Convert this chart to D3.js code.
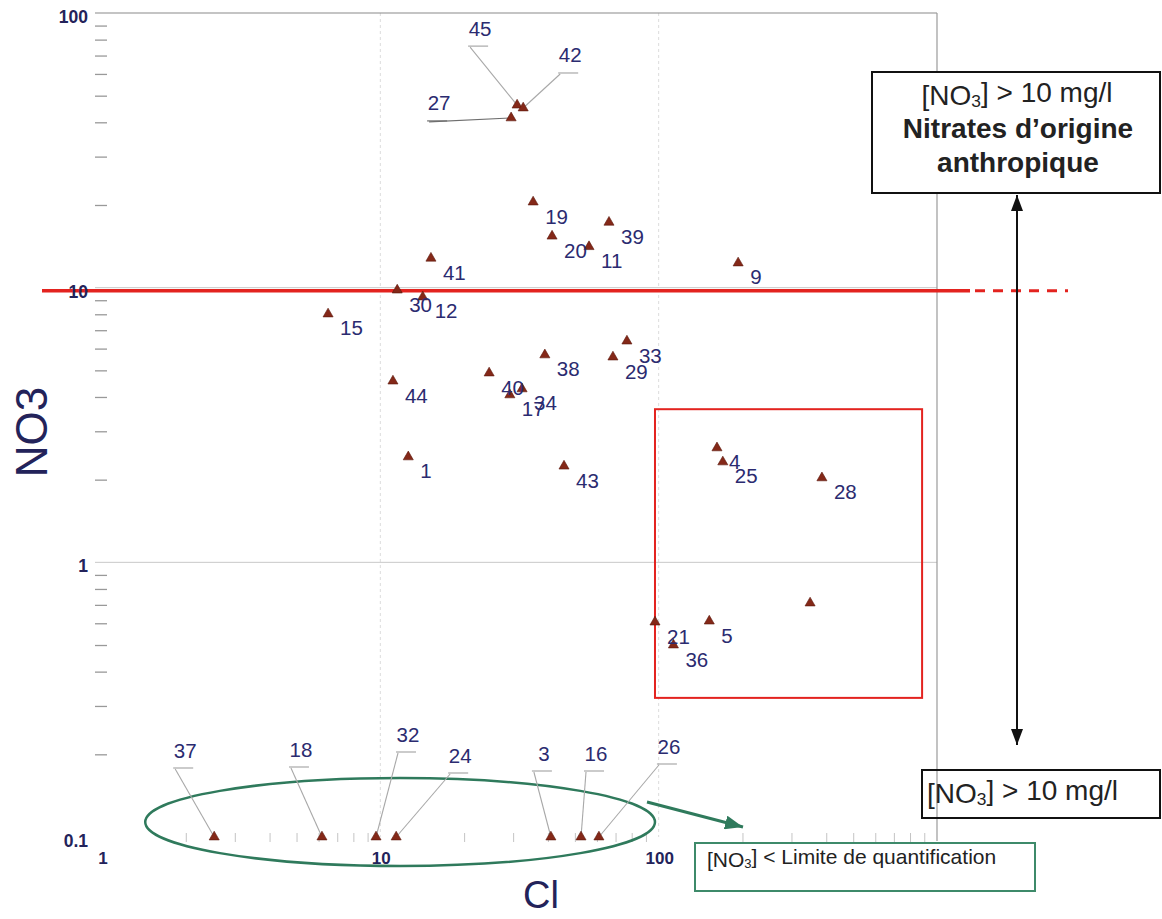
<!DOCTYPE html>
<html>
<head>
<meta charset="utf-8">
<script src="https://cdn.jsdelivr.net/npm/d3@7"></script>
<style>
  body { margin: 0; background: #fff; }
  svg { display: block; }
  text { font-family: "Liberation Sans", Arial, Helvetica, sans-serif; }
</style>
</head>
<body>
<svg id="chart" width="1162" height="919"></svg>
<script>
// Sample numbers and concentrations (mg/l)
const sampleIds = ["45", "42", "27", "19", "20", "11", "39", "41", "9", "30", "12", "15",
  "44", "1", "40", "17", "34", "38", "29", "33", "43", "4", "25", "28", "", "5", "21", "36",
  "37", "18", "32", "24", "3", "16", "26"];
const chloride = [31.0, 32.6, 29.5, 35.4, 41.4, 56.2, 66.3, 15.2, 193, 11.5, 14.2, 6.49,
  11.1, 12.6, 24.6, 29.2, 32.3, 39.0, 68.5, 76.9, 45.7, 162, 170, 386, 350, 152, 97.0, 113,
  2.53, 6.17, 9.65, 11.4, 41.0, 52.6, 61.0];
const nitrate = [46.2, 45.1, 41.5, 20.5, 15.4, 14.1, 17.3, 12.8, 12.3, 9.8, 9.25, 8.02,
  4.57, 2.42, 4.89, 4.07, 4.28, 5.69, 5.59, 6.39, 2.24, 2.61, 2.32, 2.03, 0.711, 0.611, 0.606, 0.50,
  0.1, 0.1, 0.1, 0.1, 0.1, 0.1, 0.1];

const xTickValues = [1, 10, 100];
const xTickLabels = ["1", "10", "100"];
const yTickValues = [0.1, 1, 10, 100];
const yTickLabels = ["0.1", "1", "10", "100"];

const nitrateLimit = 10;          // mg/l threshold line
const zoneCl = [97, 884];         // highlighted zone, chloride extent
const zoneNO3 = [0.321, 3.61];    // highlighted zone, nitrate extent
const lowGroupCl = [1.43, 97];    // samples below quantification limit

// Callout placement for crowded labels: label centre offset from the point
const callouts = {
  "45": [-37, -77], "42": [47, -53], "27": [-72, -15],
  "37": [-29, -87], "18": [-21, -88], "32": [32, -103], "24": [64, -82],
  "3": [-7, -84], "16": [15, -84], "26": [70, -91]
};

const points = sampleIds.map((id, i) => ({ id, cl: chloride[i], no3: nitrate[i] }));

const svg = d3.select("#chart");
svg.append("rect").attr("width", 1162).attr("height", 919).attr("fill", "#fff");

const x = d3.scaleLog().domain([1, 1000]).range([102, 937]);
const y = d3.scaleLog().domain([0.1, 100]).range([837, 13]);

const navy = "#23235a";
const red = "#e3231f";
const green = "#2f7a5c";

// Grid: faint vertical lines at decades, horizontal decade lines
const grid = svg.append("g");
grid.selectAll("line.v").data([10, 100]).join("line")
  .attr("x1", d => x(d)).attr("x2", d => x(d))
  .attr("y1", y(100)).attr("y2", y(0.1))
  .attr("stroke", "#dcdcdc").attr("stroke-width", 1).attr("stroke-dasharray", "3,3");
grid.selectAll("line.h").data([1, 10]).join("line")
  .attr("x1", 95).attr("x2", x(1000))
  .attr("y1", d => y(d)).attr("y2", d => y(d))
  .attr("stroke", "#c8c8c8").attr("stroke-width", 1);
// frame: top and right
grid.append("line").attr("x1", 95).attr("x2", x(1000)).attr("y1", y(100)).attr("y2", y(100))
  .attr("stroke", "#8a8a8a").attr("stroke-width", 1.2);
grid.append("line").attr("x1", x(1000)).attr("x2", x(1000)).attr("y1", y(100)).attr("y2", y(0.1) + 4)
  .attr("stroke", "#9a9a9a").attr("stroke-width", 1.2);

// Minor ticks on the left (y) and bottom (x)
const minor = [];
[0.1, 1, 10].forEach(d => { for (let k = 2; k <= 9; k++) minor.push(d * k); });
const yAxis = d3.axisLeft(y).tickValues(minor).tickSize(12).tickFormat("");
const yAxisG = svg.append("g").attr("transform", `translate(107,0)`).call(yAxis);
yAxisG.select(".domain").remove();
yAxisG.selectAll(".tick line").attr("stroke", "#999").attr("stroke-width", 1.3);

const minorX = [];
[1, 10, 100].forEach(d => { for (let k = 2; k <= 9; k++) minorX.push(d * k); });
const xAxis = d3.axisTop(x).tickValues(minorX).tickSize(9).tickFormat("");
const xAxisG = svg.append("g").attr("transform", `translate(0,${y(0.1) + 5})`).call(xAxis);
xAxisG.select(".domain").remove();
xAxisG.selectAll(".tick line").attr("stroke", "#c4c4c4");

// Highlighted zone
svg.append("rect")
  .attr("x", x(zoneCl[0])).attr("y", y(zoneNO3[1]))
  .attr("width", x(zoneCl[1]) - x(zoneCl[0]))
  .attr("height", y(zoneNO3[0]) - y(zoneNO3[1]))
  .attr("fill", "none").attr("stroke", red).attr("stroke-width", 2);

// Group of samples below the quantification limit
const ex0 = x(lowGroupCl[0]), ex1 = x(lowGroupCl[1]);
svg.append("ellipse")
  .attr("cx", (ex0 + ex1) / 2).attr("cy", y(0.1) - 15)
  .attr("rx", (ex1 - ex0) / 2).attr("ry", 44)
  .attr("fill", "none").attr("stroke", green).attr("stroke-width", 2.5);

// Callout leader lines
const calloutG = svg.append("g");
points.filter(p => callouts[p.id]).forEach(p => {
  const px = x(p.cl), py = y(p.no3);
  const [dx, dy] = callouts[p.id];
  const lx = px + dx, ly = py + dy;
  const col = p.id === "27" ? "#6e6e6e" : "#a8a8a8";
  calloutG.append("line").attr("x1", lx - 12).attr("x2", lx + 8)
    .attr("y1", ly + 18).attr("y2", ly + 18).attr("stroke", col).attr("stroke-width", 1.2);
  calloutG.append("line").attr("x1", lx - 10).attr("y1", ly + 19)
    .attr("x2", px).attr("y2", py)
    .attr("stroke", col).attr("stroke-width", 1.1);
});

// Nitrate threshold line
svg.append("line").attr("x1", 42).attr("x2", x(1000) + 33)
  .attr("y1", y(nitrateLimit) + 3).attr("y2", y(nitrateLimit) + 3)
  .attr("stroke", red).attr("stroke-width", 3.5);
svg.append("line").attr("x1", x(1000) + 38).attr("x2", x(1000) + 131)
  .attr("y1", y(nitrateLimit) + 3).attr("y2", y(nitrateLimit) + 3)
  .attr("stroke", red).attr("stroke-width", 3).attr("stroke-dasharray", "10,8");

// Sample points
const tri = d3.symbol().type(d3.symbolTriangle).size(44);
svg.append("g").selectAll("path").data(points).join("path")
  .attr("d", tri)
  .attr("transform", d => `translate(${x(d.cl)},${y(d.no3)})`)
  .attr("fill", "#842818").attr("stroke", "#5a170c").attr("stroke-width", 0.6);

// Sample labels
svg.append("g").selectAll("text").data(points.filter(p => p.id !== "")).join("text")
  .attr("x", d => callouts[d.id] ? x(d.cl) + callouts[d.id][0] : x(d.cl) + 12)
  .attr("y", d => callouts[d.id] ? y(d.no3) + callouts[d.id][1] : y(d.no3) + 14)
  .attr("text-anchor", d => callouts[d.id] ? "middle" : "start")
  .attr("dominant-baseline", "central")
  .attr("font-size", 20.5).attr("fill", "#2b2b70")
  .text(d => d.id);

// Tick labels
svg.append("g").selectAll("text").data(yTickValues).join("text")
  .attr("x", 88).attr("y", d => y(d) + 4)
  .attr("text-anchor", "end").attr("dominant-baseline", "central")
  .attr("font-size", 17.5).attr("font-weight", "bold").attr("fill", navy)
  .text((d, i) => yTickLabels[i]);
svg.append("g").selectAll("text").data(xTickValues).join("text")
  .attr("x", d => x(d) + 1).attr("y", 858)
  .attr("text-anchor", "middle").attr("dominant-baseline", "central")
  .attr("font-size", 17).attr("font-weight", "bold").attr("fill", navy)
  .text((d, i) => xTickLabels[i]);

// Axis titles
svg.append("text").attr("transform", "translate(31,432) rotate(-90)")
  .attr("text-anchor", "middle").attr("dominant-baseline", "central")
  .attr("font-size", 44).attr("fill", navy).text("NO3");
svg.append("text").attr("x", 541).attr("y", 895)
  .attr("text-anchor", "middle").attr("dominant-baseline", "central")
  .attr("font-size", 38).attr("fill", navy).text("Cl");

// Arrow heads
const defs = svg.append("defs");
defs.append("marker").attr("id", "headBlack").attr("viewBox", "0 0 16 12")
  .attr("refX", 16).attr("refY", 6).attr("markerWidth", 16).attr("markerHeight", 12)
  .attr("markerUnits", "userSpaceOnUse").attr("orient", "auto-start-reverse")
  .append("path").attr("d", "M0,0 L16,6 L0,12 Z").attr("fill", "#111");
defs.append("marker").attr("id", "headGreen").attr("viewBox", "0 0 18 14")
  .attr("refX", 18).attr("refY", 7).attr("markerWidth", 18).attr("markerHeight", 14)
  .attr("markerUnits", "userSpaceOnUse").attr("orient", "auto")
  .append("path").attr("d", "M0,0 L18,7 L0,14 Z").attr("fill", green);

// Helper: "[NO3] ..." with subscript
function no3Text(sel, rest) {
  sel.append("tspan").text("[NO");
  sel.append("tspan").attr("font-size", "0.62em").attr("dy", "0.32em").text("3");
  sel.append("tspan").attr("dy", "-0.32em").text("]" + rest);
}

// Anthropogenic nitrate box
svg.append("rect").attr("x", 872).attr("y", 72).attr("width", 288).attr("height", 121)
  .attr("fill", "#fff").attr("stroke", "#111").attr("stroke-width", 2);
const t1 = svg.append("text").attr("x", 1017).attr("y", 95).attr("text-anchor", "middle")
  .attr("dominant-baseline", "central").attr("font-size", 28).attr("fill", "#222");
no3Text(t1, " > 10 mg/l");
svg.append("text").attr("x", 1018).attr("y", 128).attr("text-anchor", "middle")
  .attr("dominant-baseline", "central").attr("font-size", 28).attr("font-weight", "bold")
  .attr("fill", "#222").text("Nitrates d\u2019origine");
svg.append("text").attr("x", 1018).attr("y", 162).attr("text-anchor", "middle")
  .attr("dominant-baseline", "central").attr("font-size", 28).attr("font-weight", "bold")
  .attr("fill", "#222").text("anthropique");

// Vertical double arrow
svg.append("line").attr("x1", 1017).attr("x2", 1017).attr("y1", 195).attr("y2", 745)
  .attr("stroke", "#111").attr("stroke-width", 2)
  .attr("marker-start", "url(#headBlack)").attr("marker-end", "url(#headBlack)");

// Lower box
svg.append("rect").attr("x", 922).attr("y", 770).attr("width", 238).attr("height", 48)
  .attr("fill", "none").attr("stroke", "#111").attr("stroke-width", 2);
const t2 = svg.append("text").attr("x", 927).attr("y", 793)
  .attr("dominant-baseline", "central").attr("font-size", 28).attr("fill", "#222");
no3Text(t2, " > 10 mg/l");

// Quantification limit note
svg.append("line").attr("x1", 647).attr("y1", 802).attr("x2", 743).attr("y2", 827)
  .attr("stroke", green).attr("stroke-width", 3).attr("marker-end", "url(#headGreen)");
svg.append("rect").attr("x", 695).attr("y", 843).attr("width", 340).attr("height", 48)
  .attr("fill", "none").attr("stroke", "#3e8a6a").attr("stroke-width", 2);
const t3 = svg.append("text").attr("x", 707).attr("y", 859)
  .attr("dominant-baseline", "central").attr("font-size", 21).attr("fill", "#222");
no3Text(t3, " < Limite de quantification");
</script>
</body>
</html>
